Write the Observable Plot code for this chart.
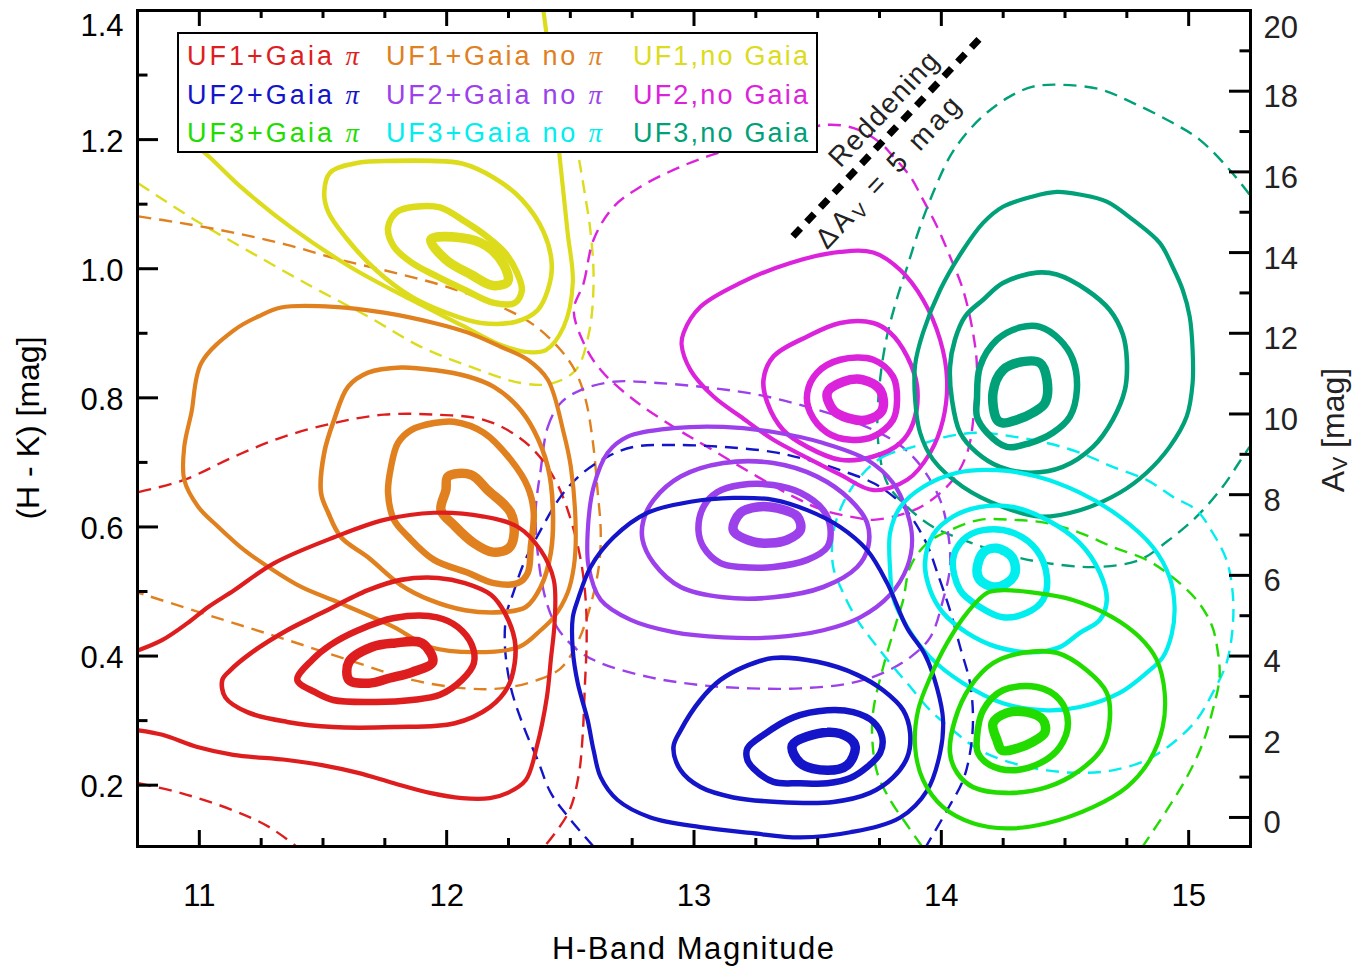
<!DOCTYPE html>
<html><head><meta charset="utf-8">
<script src="https://cdn.jsdelivr.net/npm/d3@7"></script>
<script src="https://cdn.jsdelivr.net/npm/@observablehq/plot@0.6"></script>
<style>body{margin:0;background:#fff;} svg{display:block}</style>
</head><body><div id="chart"></div>
<script>
// ---------- categories / colours ----------
const seriesNames = ["UF1+Gaia π","UF2+Gaia π","UF3+Gaia π","UF1+Gaia no π","UF2+Gaia no π","UF3+Gaia no π","UF1,no Gaia","UF2,no Gaia","UF3,no Gaia"];
const seriesColors = ["#de1e1e","#1414c8","#22dc00","#e0801f","#9b40eb","#00eeee","#dcdc1c","#dc23dc","#00a078"];

// ---------- axis ticks ----------
const xMajor = [11, 12, 13, 14, 15];
const xMinor = [10.75, 11.25, 11.5, 11.75, 12.25, 12.5, 12.75, 13.25, 13.5, 13.75, 14.25, 14.5, 14.75, 15.25];
const yMajor = [0.2, 0.4, 0.6, 0.8, 1.0, 1.2, 1.4];
const yMinor = [0.3, 0.5, 0.7, 0.9, 1.1, 1.3];
const avMajor = [0, 2, 4, 6, 8, 10, 12, 14, 16, 18, 20];
const avMinor = [1, 3, 5, 7, 9, 11, 13, 15, 17, 19];
const avZeroHK = 0.15, hkPerAv = 1 / 16; // right axis: (H-K) = 0.15 + A_V/16

// reddening vector, ΔA_V = 5 mag
const reddening = [[13.40, 1.05], [14.17, 1.3625]];

// ---------- contours (H mag, H-K) : solid levels inner -> outer, then dashed ----------
const uf1PiSolid = [
  [[11.605,0.391],[11.698,0.414],[11.787,0.420],[11.900,0.420],[11.944,0.391],[11.860,0.375],[11.771,0.366],[11.686,0.358],[11.605,0.363]],
  [[11.396,0.363],[11.456,0.394],[11.529,0.417],[11.642,0.440],[11.787,0.459],[11.961,0.460],[12.045,0.445],[12.102,0.417],[12.110,0.389],[12.062,0.363],[11.973,0.340],[11.860,0.332],[11.714,0.329],[11.541,0.332],[11.468,0.344]],
  [[11.093,0.363],[11.105,0.336],[11.194,0.313],[11.355,0.298],[11.541,0.290],[11.787,0.290],[12.033,0.296],[12.175,0.321],[12.247,0.352],[12.275,0.389],[12.275,0.425],[12.235,0.467],[12.179,0.495],[12.074,0.513],[11.965,0.521],[11.815,0.518],[11.682,0.502],[11.496,0.467],[11.355,0.440],[11.210,0.405],[11.125,0.378]],
  [[10.754,0.409],[10.851,0.425],[10.952,0.451],[11.036,0.476],[11.141,0.502],[11.303,0.544],[11.545,0.584],[11.747,0.611],[11.949,0.622],[12.150,0.616],[12.288,0.600],[12.380,0.564],[12.433,0.518],[12.437,0.456],[12.421,0.394],[12.405,0.336],[12.364,0.259],[12.320,0.208],[12.247,0.188],[12.175,0.180],[12.062,0.180],[11.932,0.188],[11.787,0.203],[11.642,0.219],[11.496,0.231],[11.355,0.239],[11.137,0.247],[10.992,0.259],[10.851,0.278],[10.754,0.285]]
];
const uf1PiDashed = [
  [[10.754,0.654],[10.939,0.673],[11.141,0.709],[11.343,0.740],[11.545,0.761],[11.747,0.774],[11.949,0.774],[12.150,0.766],[12.288,0.740],[12.380,0.707],[12.449,0.665],[12.502,0.611],[12.542,0.549],[12.562,0.487],[12.566,0.425],[12.558,0.347],[12.550,0.278],[12.534,0.216],[12.493,0.158],[12.393,0.104]],
  [[10.754,0.203],[10.923,0.188],[11.137,0.161],[11.283,0.135],[11.396,0.104]]
];

const uf1NoPiSolid = [
  [[12.005,0.678],[12.098,0.681],[12.166,0.657],[12.259,0.622],[12.271,0.584],[12.251,0.567],[12.187,0.561],[12.110,0.575],[12.029,0.603],[11.977,0.626],[11.997,0.657]],
  [[11.856,0.750],[11.949,0.761],[12.029,0.763],[12.150,0.746],[12.259,0.704],[12.328,0.662],[12.352,0.622],[12.340,0.569],[12.328,0.529],[12.288,0.513],[12.191,0.513],[12.086,0.529],[11.949,0.549],[11.844,0.585],[11.787,0.611],[11.763,0.653],[11.775,0.693],[11.803,0.730]],
  [[11.601,0.817],[11.682,0.839],[11.815,0.847],[11.949,0.843],[12.086,0.833],[12.191,0.817],[12.288,0.786],[12.352,0.750],[12.409,0.693],[12.429,0.631],[12.421,0.560],[12.380,0.507],[12.320,0.476],[12.219,0.468],[12.074,0.471],[11.932,0.487],[11.815,0.510],[11.682,0.553],[11.573,0.584],[11.521,0.622],[11.492,0.653],[11.505,0.715],[11.545,0.766]],
  [[11.331,0.940],[11.545,0.941],[11.747,0.932],[11.949,0.916],[12.086,0.901],[12.219,0.879],[12.328,0.859],[12.409,0.828],[12.473,0.746],[12.502,0.693],[12.522,0.591],[12.514,0.538],[12.489,0.498],[12.433,0.460],[12.380,0.440],[12.292,0.414],[12.118,0.406],[11.932,0.414],[11.787,0.445],[11.569,0.482],[11.412,0.507],[11.279,0.538],[11.182,0.564],[11.077,0.600],[10.996,0.631],[10.939,0.673],[10.939,0.724],[10.968,0.777],[11.008,0.854],[11.141,0.905],[11.238,0.926]]
];
const uf1NoPiDashed = [
  [[10.754,1.081],[10.923,1.071],[11.137,1.056],[11.355,1.037],[11.569,1.014],[11.787,0.994],[12.001,0.972],[12.219,0.941],[12.352,0.913],[12.461,0.874],[12.522,0.840],[12.562,0.797],[12.590,0.735],[12.610,0.657],[12.623,0.591],[12.615,0.538],[12.582,0.479],[12.534,0.425],[12.461,0.381],[12.352,0.361],[12.219,0.350],[12.074,0.350],[11.860,0.363],[11.642,0.389],[11.355,0.425],[11.065,0.460],[10.754,0.498]]
];

const uf1NoGaiaSolid = [
  [[11.936,1.045],[12.058,1.048],[12.158,1.036],[12.231,1.006],[12.247,0.980],[12.187,0.974],[12.098,0.991],[11.997,1.014]],
  [[11.763,1.064],[11.799,1.088],[11.872,1.096],[11.973,1.095],[12.074,1.073],[12.162,1.050],[12.235,1.025],[12.284,0.994],[12.304,0.967],[12.275,0.947],[12.191,0.947],[12.074,0.967],[11.961,0.988],[11.860,1.009],[11.787,1.034]],
  [[11.529,1.149],[11.642,1.164],[11.787,1.167],[11.936,1.167],[12.062,1.163],[12.191,1.141],[12.304,1.107],[12.393,1.056],[12.425,1.006],[12.409,0.967],[12.368,0.936],[12.280,0.918],[12.138,0.916],[11.997,0.932],[11.856,0.957],[11.714,0.998],[11.593,1.048],[11.521,1.088],[11.505,1.119]],
  [[10.968,1.197],[11.044,1.172],[11.170,1.126],[11.371,1.064],[11.614,1.002],[11.856,0.952],[12.058,0.913],[12.219,0.882],[12.328,0.871],[12.401,0.874],[12.473,0.910],[12.510,0.978],[12.489,1.056],[12.461,1.158],[12.433,1.262],[12.401,1.371],[12.388,1.409]]
];
const uf1NoGaiaDashed = [
  [[10.754,1.132],[10.980,1.076],[11.210,1.025],[11.456,0.972],[11.682,0.926],[11.896,0.879],[12.098,0.848],[12.300,0.823],[12.421,0.822],[12.522,0.843],[12.574,0.898],[12.594,0.978],[12.582,1.056],[12.554,1.127],[12.530,1.184],[12.510,1.262]]
];

const uf2PiSolid = [
  [[13.398,0.262],[13.539,0.282],[13.624,0.274],[13.652,0.259],[13.620,0.231],[13.539,0.223],[13.430,0.234]],
  [[13.216,0.257],[13.281,0.278],[13.402,0.305],[13.539,0.316],[13.644,0.313],[13.725,0.298],[13.761,0.274],[13.753,0.250],[13.700,0.228],[13.632,0.211],[13.539,0.203],[13.430,0.203],[13.321,0.205],[13.240,0.226],[13.216,0.239]],
  [[12.917,0.259],[12.946,0.285],[13.026,0.332],[13.107,0.363],[13.200,0.383],[13.321,0.397],[13.498,0.391],[13.660,0.371],[13.765,0.347],[13.846,0.316],[13.874,0.281],[13.862,0.243],[13.805,0.212],[13.712,0.188],[13.563,0.174],[13.337,0.174],[13.159,0.181],[13.026,0.197],[12.946,0.223]],
  [[12.510,0.460],[12.530,0.487],[12.582,0.538],[12.675,0.584],[12.812,0.622],[12.986,0.639],[13.159,0.645],[13.321,0.642],[13.458,0.626],[13.591,0.600],[13.700,0.564],[13.781,0.513],[13.862,0.443],[13.934,0.402],[13.983,0.350],[14.007,0.301],[13.995,0.250],[13.943,0.192],[13.834,0.150],[13.632,0.127],[13.430,0.119],[13.228,0.126],[13.026,0.135],[12.824,0.150],[12.691,0.177],[12.623,0.212],[12.594,0.254],[12.570,0.301],[12.530,0.358],[12.510,0.409]]
];
const uf2PiDashed = [
  [[12.594,0.105],[12.502,0.146],[12.421,0.188],[12.368,0.239],[12.312,0.290],[12.259,0.352],[12.235,0.420],[12.243,0.467],[12.267,0.495],[12.312,0.544],[12.380,0.595],[12.461,0.647],[12.542,0.681],[12.651,0.709],[12.756,0.724],[12.917,0.727],[13.119,0.724],[13.321,0.716],[13.458,0.704],[13.591,0.688],[13.725,0.668],[13.821,0.642],[13.886,0.611],[13.943,0.572],[13.983,0.530],[14.035,0.471],[14.076,0.414],[14.116,0.358],[14.128,0.301],[14.116,0.250],[14.088,0.208],[14.023,0.161],[13.938,0.105]]
];

const uf2NoPiSolid = [
  [[13.159,0.595],[13.188,0.622],[13.256,0.631],[13.337,0.629],[13.418,0.616],[13.430,0.595],[13.377,0.580],[13.309,0.575],[13.240,0.577]],
  [[13.018,0.595],[13.038,0.631],[13.095,0.654],[13.188,0.665],[13.321,0.665],[13.430,0.653],[13.523,0.626],[13.551,0.600],[13.539,0.569],[13.458,0.549],[13.321,0.538],[13.188,0.538],[13.107,0.544],[13.038,0.569]],
  [[12.796,0.611],[12.837,0.642],[12.946,0.678],[13.119,0.699],[13.321,0.699],[13.498,0.678],[13.632,0.642],[13.700,0.606],[13.704,0.569],[13.660,0.538],[13.523,0.507],[13.321,0.491],[13.119,0.491],[12.946,0.507],[12.837,0.544],[12.792,0.580]],
  [[12.574,0.538],[12.570,0.591],[12.594,0.662],[12.651,0.715],[12.732,0.740],[12.917,0.753],[13.119,0.755],[13.321,0.747],[13.523,0.730],[13.700,0.704],[13.805,0.668],[13.862,0.622],[13.882,0.580],[13.862,0.538],[13.793,0.495],[13.672,0.460],[13.523,0.440],[13.321,0.429],[13.119,0.429],[12.917,0.437],[12.744,0.456],[12.623,0.487]]
];
const uf2NoPiDashed = [
  [[12.380,0.688],[12.409,0.755],[12.461,0.792],[12.542,0.812],[12.675,0.825],[12.853,0.823],[13.054,0.816],[13.256,0.805],[13.458,0.786],[13.660,0.761],[13.821,0.730],[13.914,0.696],[13.995,0.642],[14.027,0.591],[14.035,0.538],[14.007,0.487],[13.955,0.429],[13.874,0.398],[13.765,0.374],[13.632,0.358],[13.430,0.350],[13.228,0.350],[13.026,0.355],[12.824,0.367],[12.623,0.389],[12.530,0.409],[12.449,0.443],[12.401,0.487],[12.368,0.560],[12.360,0.626]]
];

const uf2NoGaiaSolid = [
  [[13.539,0.808],[13.603,0.825],[13.684,0.828],[13.753,0.812],[13.761,0.781],[13.700,0.766],[13.620,0.769],[13.563,0.781]],
  [[13.458,0.808],[13.498,0.839],[13.591,0.859],[13.725,0.859],[13.805,0.833],[13.821,0.797],[13.805,0.766],[13.725,0.740],[13.632,0.735],[13.539,0.746],[13.470,0.777]],
  [[13.281,0.828],[13.321,0.864],[13.458,0.895],[13.591,0.916],[13.725,0.916],[13.793,0.901],[13.862,0.864],[13.902,0.817],[13.886,0.761],[13.834,0.730],[13.725,0.709],[13.591,0.704],[13.458,0.724],[13.361,0.750],[13.297,0.792]],
  [[12.958,0.901],[13.026,0.941],[13.188,0.978],[13.390,1.009],[13.591,1.026],[13.725,1.025],[13.834,0.998],[13.926,0.952],[13.995,0.890],[14.023,0.828],[14.007,0.766],[13.955,0.715],[13.862,0.673],[13.725,0.657],[13.591,0.681],[13.458,0.707],[13.321,0.735],[13.188,0.771],[13.079,0.802],[12.986,0.843],[12.950,0.882]]
];
const uf2NoGaiaDashed = [
  [[12.514,0.936],[12.554,0.978],[12.594,1.045],[12.675,1.096],[12.784,1.127],[12.917,1.153],[13.054,1.174],[13.289,1.200],[13.539,1.223],[13.660,1.216],[13.753,1.195],[13.805,1.174],[13.874,1.143],[13.926,1.107],[13.983,1.065],[14.035,1.019],[14.088,0.967],[14.128,0.901],[14.144,0.848],[14.136,0.797],[14.108,0.719],[14.047,0.673],[13.943,0.637],[13.862,0.622],[13.725,0.611],[13.660,0.614],[13.523,0.626],[13.402,0.647],[13.256,0.678],[13.054,0.724],[12.917,0.755],[12.756,0.797],[12.623,0.843],[12.554,0.885]]
];

const uf3PiSolid = [
  [[14.225,0.270],[14.209,0.296],[14.265,0.312],[14.346,0.313],[14.411,0.301],[14.419,0.282],[14.370,0.267],[14.306,0.257],[14.245,0.254]],
  [[14.144,0.274],[14.169,0.316],[14.249,0.347],[14.386,0.352],[14.479,0.332],[14.512,0.296],[14.479,0.259],[14.399,0.234],[14.290,0.223],[14.197,0.231],[14.148,0.250]],
  [[14.035,0.250],[14.055,0.301],[14.116,0.352],[14.209,0.389],[14.330,0.405],[14.467,0.405],[14.588,0.378],[14.669,0.343],[14.681,0.301],[14.653,0.259],[14.560,0.223],[14.427,0.197],[14.265,0.188],[14.128,0.197],[14.064,0.219]],
  [[14.185,0.498],[14.249,0.502],[14.358,0.499],[14.532,0.487],[14.693,0.460],[14.802,0.429],[14.871,0.394],[14.903,0.343],[14.895,0.290],[14.843,0.239],[14.750,0.197],[14.613,0.166],[14.427,0.141],[14.265,0.133],[14.128,0.141],[14.007,0.166],[13.926,0.208],[13.894,0.259],[13.906,0.316],[13.955,0.367],[14.023,0.420],[14.104,0.467]]
];
const uf3PiDashed = [
  [[13.922,0.105],[13.862,0.138],[13.793,0.177],[13.741,0.219],[13.721,0.270],[13.725,0.316],[13.765,0.383],[13.821,0.456],[13.846,0.487],[13.874,0.538],[13.943,0.575],[14.035,0.595],[14.156,0.611],[14.290,0.611],[14.427,0.606],[14.560,0.591],[14.693,0.569],[14.830,0.549],[14.935,0.522],[15.032,0.487],[15.093,0.448],[15.117,0.409],[15.125,0.367],[15.097,0.316],[15.057,0.265],[14.992,0.212],[14.911,0.161],[14.814,0.105]]
];

const uf3NoPiSolid = [
  [[14.144,0.533],[14.169,0.560],[14.225,0.567],[14.286,0.553],[14.298,0.529],[14.265,0.513],[14.209,0.507],[14.156,0.518]],
  [[14.047,0.549],[14.088,0.580],[14.169,0.595],[14.290,0.591],[14.386,0.564],[14.427,0.522],[14.411,0.487],[14.346,0.467],[14.249,0.460],[14.156,0.476],[14.076,0.502]],
  [[13.934,0.544],[13.967,0.588],[14.047,0.616],[14.156,0.631],[14.290,0.631],[14.427,0.611],[14.560,0.575],[14.641,0.529],[14.669,0.487],[14.641,0.456],[14.560,0.436],[14.479,0.414],[14.358,0.406],[14.225,0.414],[14.104,0.436],[14.007,0.467],[13.955,0.502]],
  [[13.793,0.533],[13.793,0.591],[13.834,0.631],[13.926,0.662],[14.064,0.684],[14.225,0.688],[14.386,0.678],[14.560,0.653],[14.721,0.616],[14.855,0.569],[14.923,0.522],[14.943,0.476],[14.931,0.433],[14.895,0.398],[14.830,0.374],[14.721,0.343],[14.560,0.321],[14.427,0.316],[14.249,0.327],[14.088,0.358],[13.955,0.398],[13.862,0.445],[13.805,0.491]]
];
const uf3NoPiDashed = [
  [[13.672,0.678],[13.765,0.709],[13.886,0.724],[14.023,0.740],[14.156,0.746],[14.290,0.740],[14.427,0.730],[14.560,0.715],[14.693,0.693],[14.830,0.673],[14.935,0.647],[15.032,0.626],[15.097,0.591],[15.153,0.549],[15.178,0.498],[15.178,0.445],[15.153,0.389],[15.097,0.343],[15.032,0.301],[14.935,0.265],[14.830,0.239],[14.693,0.223],[14.560,0.219],[14.427,0.223],[14.290,0.234],[14.156,0.254],[14.047,0.285],[13.955,0.316],[13.862,0.358],[13.793,0.389],[13.725,0.422],[13.660,0.456],[13.603,0.498],[13.563,0.538],[13.563,0.591],[13.603,0.637]]
];

const uf3NoGaiaSolid = [
  [[14.225,0.766],[14.209,0.808],[14.249,0.843],[14.330,0.856],[14.399,0.854],[14.427,0.828],[14.419,0.792],[14.370,0.777],[14.306,0.766],[14.249,0.761]],
  [[14.144,0.797],[14.156,0.848],[14.225,0.890],[14.318,0.909],[14.399,0.910],[14.479,0.890],[14.532,0.859],[14.548,0.812],[14.520,0.771],[14.451,0.746],[14.358,0.730],[14.265,0.724],[14.185,0.746],[14.144,0.771]],
  [[14.169,0.952],[14.249,0.978],[14.386,0.994],[14.467,0.991],[14.588,0.967],[14.681,0.936],[14.734,0.898],[14.750,0.859],[14.742,0.812],[14.693,0.766],[14.613,0.724],[14.491,0.693],[14.358,0.684],[14.237,0.693],[14.144,0.715],[14.076,0.746],[14.043,0.797],[14.035,0.848],[14.055,0.890],[14.096,0.926]],
  [[13.926,0.901],[13.995,0.967],[14.088,1.029],[14.169,1.071],[14.249,1.096],[14.370,1.112],[14.467,1.119],[14.560,1.115],[14.669,1.104],[14.774,1.076],[14.883,1.040],[14.935,1.003],[14.976,0.967],[15.004,0.926],[15.016,0.874],[15.016,0.823],[14.992,0.771],[14.923,0.724],[14.830,0.684],[14.721,0.653],[14.560,0.626],[14.399,0.616],[14.249,0.631],[14.088,0.662],[13.967,0.704],[13.914,0.746],[13.894,0.797],[13.894,0.851]]
];
const uf3NoGaiaDashed = [
  [[15.246,1.115],[15.166,1.153],[15.044,1.200],[14.935,1.226],[14.774,1.257],[14.641,1.278],[14.479,1.285],[14.370,1.282],[14.278,1.267],[14.185,1.242],[14.104,1.211],[14.035,1.174],[13.967,1.118],[13.914,1.065],[13.862,1.003],[13.813,0.944],[13.773,0.882],[13.745,0.797],[13.745,0.730],[13.781,0.668],[13.862,0.631],[13.967,0.600],[14.088,0.580],[14.265,0.557],[14.427,0.544],[14.629,0.538],[14.802,0.549],[14.911,0.577],[15.032,0.616],[15.137,0.662],[15.206,0.701],[15.246,0.724]]
];

// ---------- build the contour table (draw order: no Gaia, Gaia no π, Gaia π) ----------
const groups = [
  ["UF1,no Gaia", uf1NoGaiaSolid, uf1NoGaiaDashed, [3], false],
  ["UF2,no Gaia", uf2NoGaiaSolid, uf2NoGaiaDashed, [], true],
  ["UF3,no Gaia", uf3NoGaiaSolid, uf3NoGaiaDashed, [], false],
  ["UF1+Gaia no π", uf1NoPiSolid, uf1NoPiDashed, [], false],
  ["UF2+Gaia no π", uf2NoPiSolid, uf2NoPiDashed, [], true],
  ["UF3+Gaia no π", uf3NoPiSolid, uf3NoPiDashed, [], true],
  ["UF1+Gaia π", uf1PiSolid, uf1PiDashed, [3], false],
  ["UF2+Gaia π", uf2PiSolid, uf2PiDashed, [], false],
  ["UF3+Gaia π", uf3PiSolid, uf3PiDashed, [], false]
];
const contours = [];
for (const [series, solid, dashed, openSolid, dashedClosed] of groups) {
  dashed.forEach(pts => contours.push({series, kind: "dashed", level: -1, closed: dashedClosed, pts}));
}
for (const [series, solid, dashed, openSolid] of groups) {
  solid.slice().reverse().forEach((pts, k) => {
    const level = solid.length - 1 - k;
    contours.push({series, kind: "solid", level, closed: !openSolid.includes(level), pts});
  });
}

const levelWidths = [9.5, 6.5, 4.6, 4.2];
const dashWidth = 2.4;

const fw = 1113, fh = 836;
const contourMarks = contours.map(c => Plot.line(c.pts, {
  x: d => d[0], y: d => d[1], stroke: () => c.series,
  strokeWidth: c.kind === "solid" ? levelWidths[c.level] : dashWidth,
  strokeDasharray: c.kind === "dashed" ? "13,8" : null,
  curve: c.closed ? "catmull-rom-closed" : "catmull-rom",
  strokeLinejoin: "round", strokeLinecap: "butt", clip: true
}));

const hk = av => avZeroHK + av * hkPerAv;

const plot = Plot.plot({
  width: 1357, height: 966,
  marginLeft: 137, marginRight: 107, marginTop: 10, marginBottom: 120,
  x: {domain: [10.75, 15.25], axis: null},
  y: {domain: [0.105, 1.4], axis: null},
  color: {type: "ordinal", domain: seriesNames, range: seriesColors},
  style: {fontFamily: "'Liberation Sans', Arial, Helvetica, sans-serif", fontSize: "31px", background: "white", color: "black"},
  marks: [
    ...contourMarks,
    Plot.line(reddening, {x: d => d[0], y: d => d[1], stroke: "black", strokeWidth: 7, strokeDasharray: "11,9", strokeLinecap: "butt"}),
    // ticks (inward)
    Plot.tickX(xMajor, {x: d => d, insetTop: fh - 16, stroke: "black", strokeWidth: 3}),
    Plot.tickX(xMinor, {x: d => d, insetTop: fh - 8, stroke: "black", strokeWidth: 3}),
    Plot.tickX(xMajor, {x: d => d, insetBottom: fh - 16, stroke: "black", strokeWidth: 3}),
    Plot.tickX(xMinor, {x: d => d, insetBottom: fh - 8, stroke: "black", strokeWidth: 3}),
    Plot.tickY(yMajor, {y: d => d, insetRight: fw - 21, stroke: "black", strokeWidth: 3}),
    Plot.tickY(yMinor, {y: d => d, insetRight: fw - 10.5, stroke: "black", strokeWidth: 3}),
    Plot.tickY(avMajor, {y: d => hk(d), insetLeft: fw - 21, stroke: "black", strokeWidth: 3}),
    Plot.tickY(avMinor, {y: d => hk(d), insetLeft: fw - 10.5, stroke: "black", strokeWidth: 3}),
    Plot.frame({stroke: "black", strokeWidth: 3}),
    // tick labels
    Plot.text(xMajor, {x: d => d, frameAnchor: "bottom", dy: 59, text: d => String(d), fontSize: 31, fill: "black"}),
    Plot.text(yMajor.filter(d => d < 1.35), {y: d => d, frameAnchor: "left", dx: -14, dy: 2, textAnchor: "end", text: d => d.toFixed(1), fontSize: 31, fill: "black"}),
    Plot.text(yMajor.filter(d => d >= 1.35), {y: d => d, frameAnchor: "left", dx: -14, dy: 16, textAnchor: "end", text: d => d.toFixed(1), fontSize: 31, fill: "black"}),
    Plot.text(avMajor.filter(d => d < 20), {y: d => hk(d), frameAnchor: "right", dx: 13, dy: 6, textAnchor: "start", text: d => String(d), fontSize: 31, fill: "#222"}),
    Plot.text(avMajor.filter(d => d >= 20), {y: d => hk(d), frameAnchor: "right", dx: 13, dy: 18, textAnchor: "start", text: d => String(d), fontSize: 31, fill: "#222"})
  ]
});

document.getElementById("chart").appendChild(plot);
const svg = d3.select(plot);
const xs = plot.scale("x"), ys = plot.scale("y");
const colorOf = name => seriesColors[seriesNames.indexOf(name)];

// axis titles
svg.append("text").attr("x", 693).attr("y", 959).attr("text-anchor", "middle")
  .attr("font-size", 31).attr("fill", "black").attr("textLength", 282).attr("lengthAdjust", "spacing")
  .text("H-Band Magnitude");
svg.append("text").attr("transform", "translate(39,428) rotate(-90)").attr("text-anchor", "middle")
  .attr("font-size", 32).attr("fill", "black").text("(H - K) [mag]");
const av = svg.append("text").attr("transform", "translate(1344,430) rotate(-90)").attr("text-anchor", "middle")
  .attr("font-size", 32).attr("fill", "#222");
av.append("tspan").text("A");
av.append("tspan").attr("font-size", 21).attr("dy", 3).text("V");
av.append("tspan").attr("dy", -3).text(" [mag]");

// reddening labels
const p0 = [xs.apply(reddening[0][0]), ys.apply(reddening[0][1])];
const p1 = [xs.apply(reddening[1][0]), ys.apply(reddening[1][1])];
const ang = Math.atan2(p1[1] - p0[1], p1[0] - p0[0]);
const dir = [Math.cos(ang), Math.sin(ang)], nrm = [Math.sin(ang), -Math.cos(ang)];
const mid = [(p0[0] + p1[0]) / 2, (p0[1] + p1[1]) / 2];
function placeAlong(along, off) {
  return [mid[0] + dir[0] * along + nrm[0] * off, mid[1] + dir[1] * along + nrm[1] * off];
}
const deg = ang * 180 / Math.PI;
const r1 = placeAlong(16, 21);
svg.append("text").attr("transform", `translate(${r1[0]},${r1[1]}) rotate(${deg})`)
  .attr("text-anchor", "middle").attr("dominant-baseline", "central").attr("font-size", 28)
  .attr("fill", "#222").attr("textLength", 146).attr("lengthAdjust", "spacing").text("Reddening");
const r2 = placeAlong(-27, -25);
const t2 = svg.append("text").attr("transform", `translate(${r2[0]},${r2[1]}) rotate(${deg})`)
  .attr("text-anchor", "middle").attr("dominant-baseline", "central").attr("font-size", 28)
  .attr("fill", "#222").attr("textLength", 197).attr("lengthAdjust", "spacing");
t2.append("tspan").text("\u0394A");
t2.append("tspan").attr("font-size", 19).attr("dy", 7).text("V");
t2.append("tspan").attr("dy", -7).text(" = 5 mag");

// legend
const lg = svg.append("g");
lg.append("rect").attr("x", 178).attr("y", 33).attr("width", 639).attr("height", 119)
  .attr("fill", "white").attr("stroke", "black").attr("stroke-width", 2);
const legendCols = [[0, 1, 2], [3, 4, 5], [6, 7, 8]];
const colX = [187, 386, 633], rowY = [65, 103.5, 142], colW = [172, 216, 175];
legendCols.forEach((col, ci) => col.forEach((si, ri) => {
  const name = seriesNames[si];
  const t = lg.append("text").attr("x", colX[ci]).attr("y", rowY[ri]).attr("fill", colorOf(name))
    .attr("text-anchor", "start")
    .attr("font-size", 27).attr("textLength", colW[ci]).attr("lengthAdjust", "spacing");
  if (name.endsWith("π")) {
    t.append("tspan").text(name.slice(0, -1));
    t.append("tspan").attr("font-family", "'Liberation Serif', 'DejaVu Serif', serif").attr("font-style", "italic").text("π");
  } else {
    t.text(name);
  }
}));
</script>
</body></html>
